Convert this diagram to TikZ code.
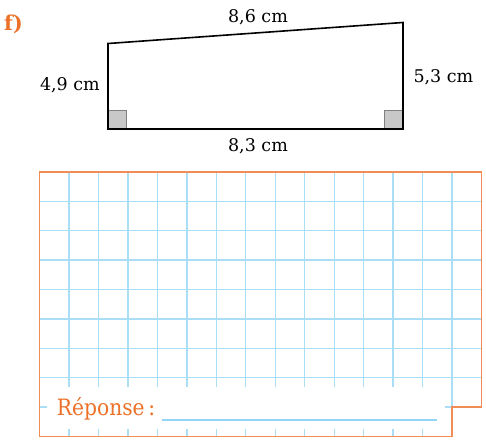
\documentclass[tikz,border=0pt]{standalone}
\usepackage{fontspec}
\usetikzlibrary{calc}
\setmainfont{DejaVu Serif}
\newfontfamily\repfont[FakeStretch=0.9]{DejaVu Serif}
\definecolor{orangetxt}{RGB}{236,112,40}
\definecolor{orangeframe}{RGB}{240,140,85}
\definecolor{gridblue}{RGB}{170,222,246}
\definecolor{lineblue}{RGB}{150,212,245}
\definecolor{squaregray}{RGB}{200,200,200}
\tikzset{
	lbl/.style={inner sep=0pt,font=\fontsize{17.5}{21}\selectfont},
	angle/.style={draw=gray,line width=1.2pt,fill=squaregray}
}
\begin{document}
\begin{tikzpicture}[x=1pt,y=-1pt]
	\useasboundingbox (0,0) rectangle (486,444);
	% figure
	\def\s{18.5}
	\coordinate (a1) at (108,129);
	\coordinate (a2) at (403,129);
	\coordinate (a3) at (403,22.5);
	\coordinate (a4) at (108,43.5);
	\draw[angle] (a1) rectangle ++(\s,-\s);
	\draw[angle] (a2) rectangle ++(-\s,-\s);
	\draw[line width=1.6pt,line join=miter] (a1) -- (a2) -- (a3) -- (a4) -- cycle;
	\node[lbl,anchor=base] (top) at (258,22.7) {8,6 cm};
	\node[lbl,anchor=base] (bot) at (258,151.7) {8,3 cm};
	\node[lbl,anchor=base east] (left) at (100,90.7) {4,9 cm};
	\node[lbl,anchor=base west] (right) at (413.3,82.7) {5,3 cm};
	\node[inner sep=0pt,anchor=base west,text=orangetxt,font=\fontsize{20.5}{24}\bfseries\selectfont] (num) at (4,30.7) {f)};
	
	
	% grid
	\def\gx{29.47}
	\def\gy{29.37}
	\coordinate (g0) at (39.5,172);
	\foreach \i in {1,...,14}
		\draw[gridblue,line width=1.3pt] ($(g0)+(\i*\gx,0)$) -- ++(0,9*\gy);
	\foreach \j in {1,...,7}
		\draw[gridblue,line width=1.3pt] ($(g0)+(0,\j*\gy)$) -- ++(15*\gx,0);
	\draw[gridblue,line width=1.3pt] ($(g0)+(0,8*\gy)$) -- ++(14*\gx,0);
	\fill[white] (47,387) rectangle (445,429);
	\draw[orangeframe,line width=1.5pt] (g0) -- ++(15*\gx,0) -- ++(0,8*\gy) -- ++(-\gx,0) -- ++(0,\gy) -- ++(-14*\gx,0) -- cycle;
	\node[inner sep=0pt,anchor=base west,text=orangetxt,font=\repfont\fontsize{22.5}{26}\selectfont] (rep) at (56.7,415.7) {Réponse\,:};
	\coordinate (u1) at (161.7,420);
	\coordinate (u2) at (436.7,420);
	\draw[lineblue,line width=1.5pt] (u1) -- (u2);
\end{tikzpicture}
\end{document}
